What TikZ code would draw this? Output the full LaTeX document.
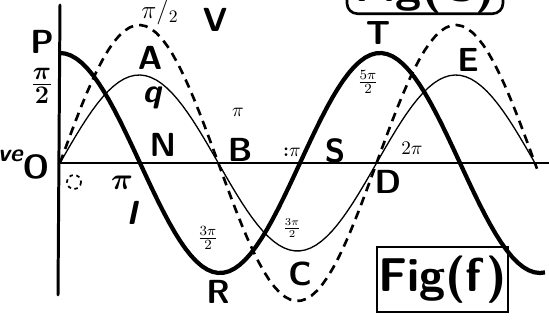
\documentclass[tikz,border=0pt]{standalone}
\usepackage{amssymb,amsmath}
\usepackage{xcolor}
\usepackage{tikz}
\usetikzlibrary{arrows.meta}
\usetikzlibrary{calc}
\tikzset{
  thinwave/.style={line width=0.75pt},
  dashwave/.style={line width=1.5pt, dash pattern=on 5pt off 3.5pt},
  thickwave/.style={line width=2.4pt},
  lbl/.style={font=\fontsize{19}{21}\selectfont\sffamily\bfseries, inner sep=0pt},
  smalllbl/.style={font=\fontsize{11}{12}\selectfont\bfseries, inner sep=0pt},
}

\begin{document}
\begin{tikzpicture}[x=0.02cm, y=-0.02cm]
\useasboundingbox (0,0) rectangle (549,327);
\clip (0,0) rectangle (549,327);
% axes
\coordinate (O) at (60,163);
\coordinate (top) at (60,5);
\coordinate (bot) at (58,295);
\coordinate (xend) at (549,163);
\draw [line width=1.7pt, line cap=round] (top) -- (bot);
\draw [line width=1.1pt] (O) -- (xend);
% the three curves
\draw [thinwave] plot [domain=60:535, samples=90] (\x, {163-88*sin((\x-60)/158.3*180)});
\draw [dashwave] plot [domain=60:537, samples=90] (\x, {163-138*sin((\x-60)/158.3*180)});
\draw [thickwave] plot [domain=60:545, samples=90] (\x, {163-110*cos((\x-60)/160*180)});
\draw [line width=1pt, dash pattern=on 2pt off 2pt] (74,182) circle [radius=7];
% labels
\node [lbl] (lp) at (42,42) {P};
\node [lbl] (lhalf) at (42,86) {$\boldsymbol{\frac{\pi}{2}}$};
\node [smalllbl, font=\fontsize{14}{15}\selectfont\bfseries] (ltop) at (160,12) {$\pi/_2$};
\node [lbl] (lv) at (215,20) {V};
\node [lbl] (la) at (150,58) {A};
\node [lbl] (lq) at (152,98) {\itshape q};
\node [smalllbl] (lpi1) at (238,112) {$\pi$};
\node [lbl] (ln) at (163,145) {N};
\node [lbl] (lb) at (240,150) {B};
\node [smalllbl] (lpi2) at (292,152) {:$\pi$};
\node [lbl] (ls) at (335,151) {S};
\node [lbl] (lt) at (378,33) {T};
\node [smalllbl] (lfive) at (368,82) {$\frac{5\pi}{2}$};
\node [lbl] (le) at (468,60) {E};
\node [smalllbl] (ltwopi) at (412,148) {$2\pi$};
\node [lbl] (lo) at (36,167) {O};
\node [lbl, anchor=east, font=\fontsize{14}{16}\selectfont\sffamily\bfseries\itshape] (lve) at (23,156) {ve};
\node [lbl] (lpi3) at (122,183) {$\boldsymbol{\pi}$};
\node [lbl] (li) at (132,213) {\itshape I};
\node [smalllbl] (lthree) at (208,238) {$\frac{3\pi}{2}$};
\node [lbl] (lr) at (218,292) {R};
\node [smalllbl, font=\fontsize{8}{9}\selectfont] (lthree2) at (292,228) {$\frac{3\pi}{2}$};
\node [lbl] (lc) at (300,274) {C};
\node [lbl] (ld) at (388,182) {D};
% figure tags
\node [draw, line width=1.7pt, minimum width=131*0.02cm, minimum height=65*0.02cm,
       font=\fontsize{27}{30}\selectfont\sffamily\bfseries, inner sep=0pt] (figf) at (442.5,279.5) {Fig(f)};
\node [draw, line width=1.5pt, rounded corners=6pt, minimum width=156*0.02cm, minimum height=40*0.02cm,
       font=\fontsize{27}{30}\selectfont\sffamily\bfseries, inner sep=0pt] (figc) at (425,-10) {Fig(C)};
\end{tikzpicture}
\end{document}
